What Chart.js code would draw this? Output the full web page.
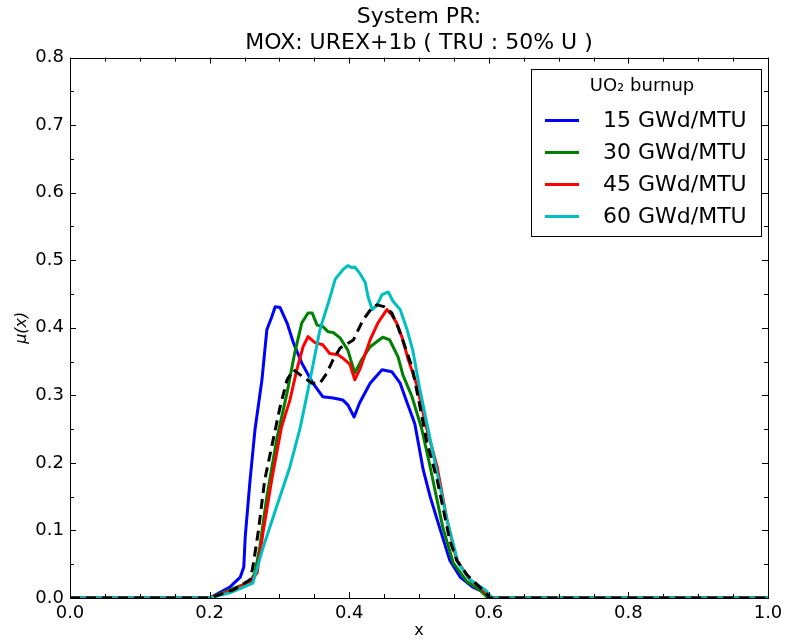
<!DOCTYPE html>
<html>
<head>
<meta charset="utf-8">
<script src="https://cdn.jsdelivr.net/npm/chart.js@4.4.0/dist/chart.umd.min.js"></script>
<style>
  html, body { margin: 0; padding: 0; background: #ffffff; }
  #wrap { width: 785px; height: 641px; position: relative; }
</style>
</head>
<body>
<div id="wrap"><canvas id="c" width="785" height="641"></canvas></div>
<script>
// ---- data ----
const titleLines = ['System PR:', 'MOX: UREX+1b ( TRU : 50% U )'];
const xAxisLabel = 'x';
const yAxisLabel = 'μ(x)';
const legendTitle = 'UO₂ burnup';
const seriesLabels = ['15 GWd/MTU', '30 GWd/MTU', '45 GWd/MTU', '60 GWd/MTU'];
const xTickValues = [0.0, 0.2, 0.4, 0.6, 0.8, 1.0];
const yTickValues = [0.0, 0.1, 0.2, 0.3, 0.4, 0.5, 0.6, 0.7, 0.8];

const x15 = [0, 0.2, 0.229, 0.244, 0.249, 0.251, 0.258, 0.265, 0.275, 0.282, 0.289, 0.294, 0.301, 0.311, 0.32, 0.332, 0.348, 0.362, 0.377, 0.391, 0.398, 0.407, 0.415, 0.43, 0.447, 0.461, 0.473, 0.483, 0.494, 0.506, 0.516, 0.526, 0.544, 0.559, 0.577, 0.592, 0.605, 1.0];
const y15 = [0, 0, 0.016, 0.031, 0.046, 0.09, 0.175, 0.249, 0.323, 0.397, 0.416, 0.431, 0.43, 0.407, 0.378, 0.348, 0.318, 0.298, 0.296, 0.293, 0.286, 0.268, 0.289, 0.318, 0.338, 0.335, 0.318, 0.289, 0.258, 0.19, 0.15, 0.116, 0.056, 0.031, 0.016, 0.009, 0, 0];

const x30 = [0, 0.2, 0.229, 0.258, 0.265, 0.272, 0.282, 0.296, 0.311, 0.322, 0.332, 0.341, 0.347, 0.354, 0.362, 0.37, 0.377, 0.387, 0.398, 0.408, 0.418, 0.43, 0.448, 0.458, 0.47, 0.477, 0.49, 0.504, 0.516, 0.534, 0.549, 0.569, 0.587, 0.599, 1.0];
const y30 = [0, 0, 0.012, 0.024, 0.037, 0.076, 0.15, 0.234, 0.304, 0.363, 0.407, 0.422, 0.422, 0.404, 0.402, 0.394, 0.393, 0.385, 0.367, 0.333, 0.353, 0.372, 0.386, 0.382, 0.357, 0.33, 0.298, 0.25, 0.194, 0.105, 0.052, 0.024, 0.012, 0, 0];

const x45 = [0, 0.2, 0.229, 0.258, 0.268, 0.277, 0.289, 0.303, 0.315, 0.325, 0.334, 0.341, 0.351, 0.362, 0.372, 0.384, 0.391, 0.401, 0.408, 0.415, 0.43, 0.441, 0.454, 0.461, 0.468, 0.476, 0.484, 0.497, 0.509, 0.526, 0.54, 0.554, 0.573, 0.592, 0.602, 1.0];
const y45 = [0, 0, 0.01, 0.024, 0.037, 0.1, 0.175, 0.253, 0.293, 0.338, 0.372, 0.387, 0.378, 0.375, 0.362, 0.36, 0.355, 0.346, 0.323, 0.338, 0.382, 0.407, 0.427, 0.419, 0.407, 0.385, 0.355, 0.315, 0.259, 0.194, 0.116, 0.056, 0.027, 0.012, 0, 0];

const x60 = [0, 0.2, 0.23, 0.262, 0.277, 0.296, 0.315, 0.33, 0.344, 0.358, 0.368, 0.3725, 0.38, 0.391, 0.398, 0.404, 0.408, 0.415, 0.423, 0.427, 0.433, 0.44, 0.447, 0.456, 0.463, 0.473, 0.483, 0.491, 0.501, 0.511, 0.526, 0.54, 0.556, 0.573, 0.595, 0.605, 1.0];
const y60 = [0, 0, 0.008, 0.022, 0.076, 0.135, 0.194, 0.253, 0.323, 0.397, 0.43, 0.445, 0.472, 0.486, 0.492, 0.489, 0.49, 0.481, 0.467, 0.446, 0.427, 0.434, 0.449, 0.453, 0.439, 0.427, 0.397, 0.367, 0.31, 0.26, 0.185, 0.116, 0.052, 0.027, 0.012, 0, 0];

const xRef = [0, 0.2, 0.234, 0.258, 0.262, 0.27, 0.279, 0.291, 0.301, 0.311, 0.32, 0.334, 0.347, 0.358, 0.368, 0.377, 0.387, 0.406, 0.42, 0.433, 0.44, 0.451, 0.461, 0.47, 0.48, 0.49, 0.499, 0.511, 0.526, 0.544, 0.554, 0.569, 0.587, 0.599, 0.6, 1.0];
const yRef = [0, 0, 0.012, 0.027, 0.046, 0.1, 0.175, 0.234, 0.283, 0.323, 0.338, 0.327, 0.318, 0.318, 0.333, 0.353, 0.37, 0.382, 0.412, 0.43, 0.434, 0.431, 0.422, 0.401, 0.372, 0.342, 0.296, 0.232, 0.175, 0.086, 0.056, 0.034, 0.016, 0.004, 0, 0];

const seriesColors = ['#0000ff', '#008000', '#ff0000', '#00bfbf'];

function pts(xs, ys) { return xs.map((x, i) => ({ x: x, y: ys[i] })); }

const FONT = 'DejaVu Sans';

// frame + inside ticks (matplotlib classic look)
const framePlugin = {
  id: 'frame',
  afterDatasetsDraw(chart) {
    const { ctx, chartArea: a, scales } = chart;
    const xs = scales.x, ys = scales.y;
    ctx.save();
    ctx.strokeStyle = '#000';
    ctx.lineWidth = 1;
    ctx.beginPath();
    for (let i = 0; i <= 20; i++) {
      const v = i * 0.05;
      const px = Math.round(xs.getPixelForValue(v)) + 0.5;
      const len = (i % 4 === 0) ? 6 : 4;
      ctx.moveTo(px, a.bottom); ctx.lineTo(px, a.bottom - len);
      ctx.moveTo(px, a.top); ctx.lineTo(px, a.top + len);
    }
    for (let i = 0; i <= 16; i++) {
      const v = i * 0.05;
      const py = Math.round(ys.getPixelForValue(v)) + 0.5;
      const len = (i % 2 === 0) ? 6 : 4;
      ctx.moveTo(a.left, py); ctx.lineTo(a.left + len, py);
      ctx.moveTo(a.right, py); ctx.lineTo(a.right - len, py);
    }
    ctx.stroke();
    ctx.strokeRect(Math.round(a.left) + 0.5, Math.round(a.top) + 0.5, Math.round(a.right - a.left), Math.round(a.bottom - a.top));
    ctx.restore();
  },
  afterDraw(chart) {
    const { ctx, chartArea: a } = chart;
    const bx = a.right - 237, by = a.top + 11, bw = 230, bh = 167;
    ctx.save();
    ctx.fillStyle = '#fff';
    ctx.fillRect(bx, by, bw, bh);
    ctx.strokeStyle = '#000';
    ctx.lineWidth = 1;
    ctx.strokeRect(Math.round(bx) + 0.5, Math.round(by) + 0.5, bw, bh);
    ctx.fillStyle = '#000';
    ctx.textBaseline = 'middle';
    ctx.textAlign = 'center';
    ctx.font = '18px "' + FONT + '"';
    ctx.fillText(legendTitle, bx + bw / 2 - 4, by + 18);
    ctx.textAlign = 'left';
    ctx.font = '22px "' + FONT + '"';
    const ds = chart.data.datasets;
    for (let i = 0; i < seriesLabels.length; i++) {
      const yy = by + 52 + i * 32;
      ctx.strokeStyle = ds[i].borderColor;
      ctx.lineWidth = 3;
      ctx.beginPath();
      ctx.moveTo(bx + 14, yy); ctx.lineTo(bx + 48, yy);
      ctx.stroke();
      ctx.fillText(ds[i].label, bx + 72, yy + 1);
    }
    ctx.restore();
  }
};

const datasets = [
  { label: seriesLabels[0], data: pts(x15, y15), borderColor: seriesColors[0], order: 4 },
  { label: seriesLabels[1], data: pts(x30, y30), borderColor: seriesColors[1], order: 3 },
  { label: seriesLabels[2], data: pts(x45, y45), borderColor: seriesColors[2], order: 2 },
  { label: seriesLabels[3], data: pts(x60, y60), borderColor: seriesColors[3], order: 1 },
  { label: 'reference', data: pts(xRef, yRef), borderColor: '#000000', borderDash: [10, 6], order: 0 }
].map(d => Object.assign({
  borderWidth: 3, pointRadius: 0, tension: 0, fill: false,
  borderJoinStyle: 'round', borderCapStyle: 'butt', backgroundColor: d.borderColor
}, d));

new Chart(document.getElementById('c'), {
  type: 'line',
  data: { datasets: datasets },
  options: {
    responsive: false,
    animation: false,
    devicePixelRatio: 1,
    layout: { padding: { left: 0, right: 17, top: 0, bottom: 0 } },
    plugins: {
      legend: { display: false },
      tooltip: { enabled: false },
      title: {
        display: true,
        text: titleLines,
        fullSize: false,
        color: '#000',
        font: { family: FONT, size: 22, weight: 'normal', lineHeight: 1.15 },
        padding: { top: 5, bottom: 2 }
      }
    },
    scales: {
      x: {
        type: 'linear', min: 0, max: 1,
        afterFit: s => { s.height = 43; s.paddingLeft = 0; s.paddingRight = 0; },
        afterBuildTicks: s => { s.ticks = xTickValues.map(v => ({ value: v })); },
        grid: { display: false, drawTicks: false },
        border: { display: false },
        ticks: {
          color: '#000', padding: 5, maxRotation: 0, autoSkip: false,
          font: { family: FONT, size: 18 },
          callback: v => Number(v).toFixed(1)
        },
        title: {
          display: true, text: xAxisLabel, color: '#000',
          font: { family: FONT, size: 16 }, padding: { top: 0, bottom: 1 }
        }
      },
      y: {
        type: 'linear', min: 0, max: 0.8,
        afterFit: s => { s.width = 70; s.paddingTop = 0; s.paddingBottom = 0; },
        afterBuildTicks: s => { s.ticks = yTickValues.map(v => ({ value: v })); },
        grid: { display: false, drawTicks: false },
        border: { display: false },
        ticks: {
          color: '#000', padding: 6, autoSkip: false,
          font: { family: FONT, size: 18 },
          callback: v => Number(v).toFixed(1)
        },
        title: {
          display: true, text: yAxisLabel, color: '#000',
          font: { family: FONT, size: 16, style: 'italic' }, padding: { top: 12, bottom: 0 }
        }
      }
    }
  },
  plugins: [framePlugin]
});
</script>
</body>
</html>
